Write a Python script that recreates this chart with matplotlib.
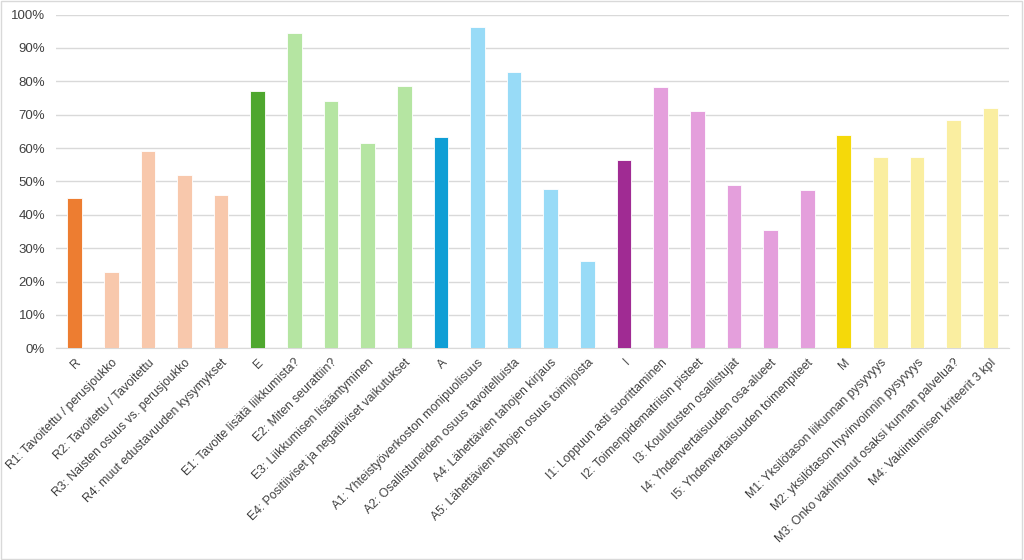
import matplotlib.pyplot as plt
from matplotlib.ticker import PercentFormatter

plt.rcParams['font.family'] = ['Liberation Sans', 'DejaVu Sans']

labels = [
    'R', 'R1: Tavoitettu / perusjoukko', 'R2: Tavoitettu / Tavoitettu',
    'R3: Naisten osuus vs. perusjoukko', 'R4: muut edustavuuden kysymykset',
    'E', 'E1: Tavoite lisätä liikkumista?', 'E2: Miten seurattiin?',
    'E3: Liikkumisen lisääntyminen', 'E4: Positiiviset ja negatiiviset vaikutukset',
    'A', 'A1: Yhteistyöverkoston monipuolisuus', 'A2: Osallistuneiden osuus tavoitelluista',
    'A4: Lähettävien tahojen kirjaus', 'A5: Lähettävien tahojen osuus toimijoista',
    'I', 'I1: Loppuun asti suorittaminen', 'I2: Toimenpidematriisin pisteet',
    'I3: Koulutusten osallistujat', 'I4: Yhdenvertaisuuden osa-alueet',
    'I5: Yhdenvertaisuuden toimenpiteet',
    'M', 'M1: Yksilötason liikunnan pysyvyys', 'M2: yksilötason hyvinvoinnin pysyvyys',
    'M3: Onko vakiintunut osaksi kunnan palvelua?', 'M4: Vakiintumisen kriteerit 3 kpl',
]
values = [
    44.9, 22.8, 59.1, 51.9, 45.9,
    77.2, 94.5, 74.2, 61.4, 78.6,
    63.4, 96.2, 82.7, 47.8, 26.3,
    56.4, 78.3, 71.0, 49.0, 35.6, 47.5,
    63.8, 57.4, 57.4, 68.4, 72.0,
]
group_sizes = [5, 5, 5, 6, 5]
main_colors = ['#ED7D31', '#4EA72E', '#0F9ED5', '#A02B93', '#F5D90A']
light_colors = ['#F8C8AC', '#B5E5A2', '#98DBF7', '#E49FDC', '#FAEEA0']

colors = []
for size, mc, lc in zip(group_sizes, main_colors, light_colors):
    colors += [mc] + [lc] * (size - 1)

fig = plt.figure(figsize=(10.24, 5.6), dpi=100)
ax = fig.add_axes([0.055, 0.378, 0.930, 0.596])

x = list(range(len(values)))
ax.bar(x, values, width=0.4, color=colors, edgecolor='white', linewidth=0.6, zorder=3)

ax.set_ylim(0, 100)
ax.set_xlim(-0.5, len(values) - 0.5)
ax.set_yticks(range(0, 101, 10))
ax.yaxis.set_major_formatter(PercentFormatter(decimals=0))
ax.grid(axis='y', color='#d9d9d9', linewidth=1, zorder=0)
for s in ['top', 'right', 'left']:
    ax.spines[s].set_visible(False)
ax.spines['bottom'].set_color('#d9d9d9')
ax.tick_params(axis='both', length=0, colors='#404040')
ax.tick_params(axis='y', pad=8, labelsize=9.5)
ax.tick_params(axis='x', pad=6, labelsize=8.8)
ax.set_xticks(x)
ax.set_xticklabels(labels, rotation=45, ha='right', rotation_mode='anchor')

border = plt.Rectangle((0.001, 0.002), 0.997, 0.996, transform=fig.transFigure,
                       fill=False, edgecolor='#d9d9d9', linewidth=1)
fig.patches.append(border)

fig.savefig('out.png', dpi=100)
